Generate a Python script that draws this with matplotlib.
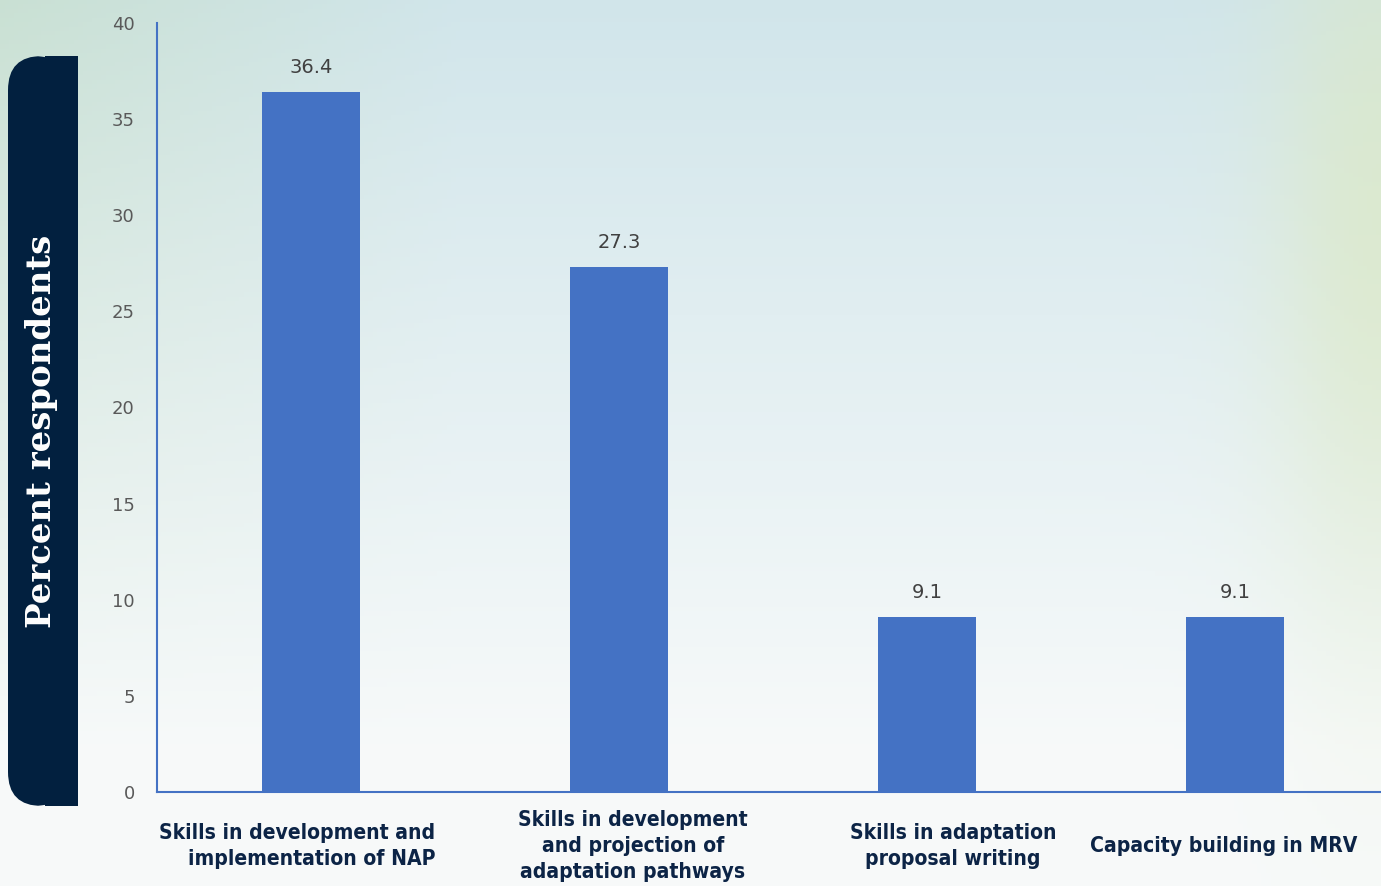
import os
import numpy as np
import matplotlib
matplotlib.use("Agg")
from matplotlib import pyplot as plt
from matplotlib import font_manager as fm
from matplotlib.patches import FancyBboxPatch, Rectangle

categories = [
    "Skills in development and\nimplementation of NAP",
    "Skills in development\nand projection of\nadaptation pathways",
    "Skills in adaptation\nproposal writing",
    "Capacity building in MRV",
]
values = [36.4, 27.3, 9.1, 9.1]
yticks = [0, 5, 10, 15, 20, 25, 30, 35, 40]
label_align = ["right", "center", "center", "center"]
label_shift = [-0.045, 0.045, 0.085, -0.036]

# look for a narrow (proportional) bold face for the category labels
def find_narrow():
    names = [os.path.basename(f.fname) for f in fm.fontManager.ttflist]
    paths = [f.fname for f in fm.fontManager.ttflist]
    for key in ["NotoSans-ExtraCondensedBold", "NotoSans-CondensedBold",
                "LiberationSansNarrow-Bold", "DejaVuSansCondensed-Bold",
                "OpenSans-CondensedBold", "NotoSans-SemiCondensedBold"]:
        for n, p in zip(names, paths):
            if n.startswith(key + "."):
                return fm.FontProperties(fname=p)
    return fm.FontProperties(family="DejaVu Sans", weight="bold")

narrow = find_narrow()

W, H = 1381, 886
fig = plt.figure(figsize=(W / 100, H / 100), dpi=100)

# background: soft sky gradient with a pale greenish glow on the right
bg = fig.add_axes([0, 0, 1, 1], zorder=-2)
yy, xx = np.mgrid[0:1:200j, 0:1:300j]
top_left = np.array([0.79, 0.88, 0.83])
top_mid = np.array([0.82, 0.90, 0.92])
bottom = np.array([0.97, 0.98, 0.98])
mix_x = np.clip(xx * 3, 0, 1)[..., None]
top = top_left * (1 - mix_x) + top_mid * mix_x
t = np.clip(yy / 0.85, 0, 1)[..., None]
img = top * (1 - t) + bottom * t
tree = np.exp(-((xx - 1.0) / 0.08) ** 2 - ((yy - 0.25) / 0.45) ** 2)[..., None]
img = img * (1 - 0.6 * tree) + np.array([0.86, 0.91, 0.74]) * 0.6 * tree
bg.imshow(img, extent=[0, W, H, 0], aspect="auto")
bg.set_xlim(0, W)
bg.set_ylim(H, 0)
bg.axis("off")

# navy y-label panel (rounded on the left side only)
navy = "#02203f"
bg.add_patch(FancyBboxPatch((8 + 34, 56 + 34), 60 - 68, 750 - 68,
                            boxstyle="round,pad=34", fc=navy, ec="none"))
bg.add_patch(Rectangle((45, 56), 33, 750, fc=navy, ec="none"))
bg.text(42, 431, "Percent respondents", rotation=90, color="white",
        fontsize=24.5, fontweight="bold", family="DejaVu Serif",
        ha="center", va="center")

ax = fig.add_axes([157 / W, (H - 792) / H, 1232 / W, 769 / H])
ax.patch.set_alpha(0)
x = np.arange(len(values))
bars = ax.bar(x, values, width=0.315, color="#4472C4")
ax.set_xlim(-0.5, 3.5)
ax.set_ylim(0, 40)
ax.set_yticks(yticks)
ax.set_xticks([])
ax.tick_params(axis="y", length=0, pad=16, labelsize=13, labelcolor="#595959")
for s in ["top", "right"]:
    ax.spines[s].set_visible(False)
for s in ["left", "bottom"]:
    ax.spines[s].set_color("#4472C4")
    ax.spines[s].set_linewidth(1.5)

for b, v in zip(bars, values):
    ax.annotate(f"{v}", (b.get_x() + b.get_width() / 2, v), xytext=(0, 18),
                textcoords="offset points", ha="center", va="center",
                fontsize=14, color="#404040")

labels = []
for i, lab in enumerate(categories):
    labels.append(ax.text(i + label_shift[i], -0.07, lab,
                          transform=ax.get_xaxis_transform(),
                          ha="center", va="center", multialignment=label_align[i],
                          fontproperties=narrow, fontsize=18, color="#0c2446",
                          linespacing=0.9))

# scale the labels so the single-line one is about as wide as in the original
fig.canvas.draw()
w = labels[3].get_window_extent().width
fs = 18 * 267 / w
for t_ in labels:
    t_.set_fontsize(fs)
    t_.set_linespacing(27 / (fs * 100 / 72 * 1.2) * 1.3)

fig.savefig("out.png", dpi=100)
